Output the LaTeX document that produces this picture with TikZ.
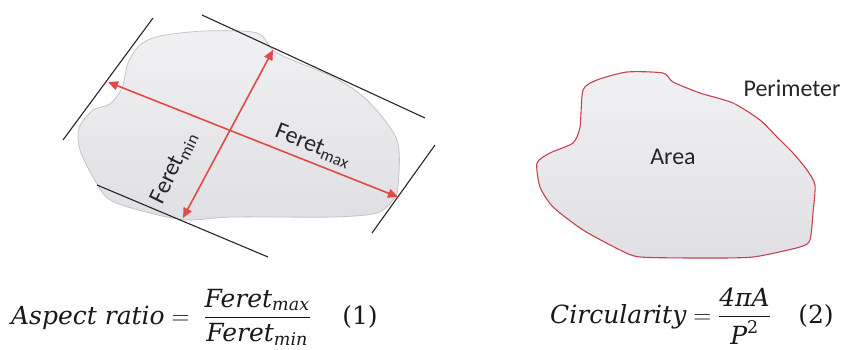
\documentclass[tikz,border=0pt]{standalone}
\usepackage{amsmath}
\usepackage{fontspec}
\newfontfamily\labfont{Carlito}
\newfontfamily\eqfont{DejaVu Serif}
\usetikzlibrary{arrows.meta}
\definecolor{arrowred}{HTML}{E24A4A}
\definecolor{blobedge}{HTML}{C4C4C8}
\definecolor{perimred}{HTML}{C8404C}
\definecolor{blobtop}{HTML}{F1F1F3}
\definecolor{blobbot}{HTML}{E0E0E4}
\tikzset{
  blobfill/.style={top color=blobtop, bottom color=blobbot},
  caliper/.style={draw=black!85, line width=1.1pt},
  feret/.style={draw=arrowred, line width=1.6pt, {Triangle[width=9pt,length=10pt]}-{Triangle[width=9pt,length=10pt]}},
  lab/.style={font=\labfont\fontsize{24}{28}\selectfont, text=black!85, inner sep=0pt},
  eq/.style={font=\eqfont\fontsize{25}{30}\selectfont, text=black!90, inner sep=0pt}
}
\newcommand{\ei}[1]{\text{\eqfont\itshape #1}}
\begin{document}
\begin{tikzpicture}[x=1pt,y=-1pt]
\useasboundingbox (0,0) rectangle (849,350);
% left particle
\path[blobfill, draw=blobedge, line width=0.8pt] plot[smooth cycle, tension=0.5] coordinates {
 (140,45) (160,36) (205,31) (257,33) (277,53) (333,77) (367,100) (397,140) (398,187) (393,200) (377,213) (333,217) (233,217) (187,220) (150,213) (110,200) (93,177) (80,150) (79,128) (93,110) (110,104) (122,88) (128,63)};
% calipers
\coordinate (l1) at (153,18); \coordinate (l2) at (63,140);
\coordinate (t1) at (202,15); \coordinate (t2) at (425,118);
\coordinate (b1) at (97,185); \coordinate (b2) at (268,257);
\coordinate (r1) at (435,145); \coordinate (r2) at (372,233);
\draw[caliper] (l1) -- (l2);
\draw[caliper] (t1) -- (t2);
\draw[caliper] (b1) -- (b2);
\draw[caliper] (r1) -- (r2);
% feret diameters
\coordinate (maxa) at (108,82); \coordinate (maxb) at (398,197);
\coordinate (mina) at (273,50); \coordinate (minb) at (183,218);
\draw[feret] (maxa) -- (maxb);
\draw[feret] (mina) -- (minb);
\node[lab, rotate=-21.6] (fmax) at (313,146) {Feret\textsubscript{max}};
\node[lab, rotate=64] (fmin) at (174,168) {Feret\textsubscript{min}};
% right particle
\path[blobfill, draw=perimred, line width=1.1pt] plot[smooth cycle, tension=0.4] coordinates {
 (583,90) (597,80) (627,72) (663,73) (673,82) (700,93) (733,103) (760,120) (777,137) (793,153) (807,170) (815,185) (813,213) (810,240) (800,247) (753,257) (700,258) (640,257) (620,250) (583,230) (553,207) (540,187) (537,163) (550,153) (573,143) (580,127)};
\node[lab] (area) at (673,157) {Area};
\node[lab] (perim) at (792,88) {Perimeter};
% equations
\node[eq, anchor=base west] (eq1) at (11,324) {$\ei{Aspect ratio} = \;\dfrac{\ei{Feret}_{\ei{max}}}{\ei{Feret}_{\ei{min}}}$};
\node[eq, anchor=base] (n1) at (360,324) {(1)};
\node[eq, anchor=base west] (eq2) at (550,323) {$\ei{Circularity} = \dfrac{\ei{4πA}}{\ei{P}^{\text{\eqfont 2}}}$};
\node[eq, anchor=base] (n2) at (816,323) {(2)};
\end{tikzpicture}
\end{document}
